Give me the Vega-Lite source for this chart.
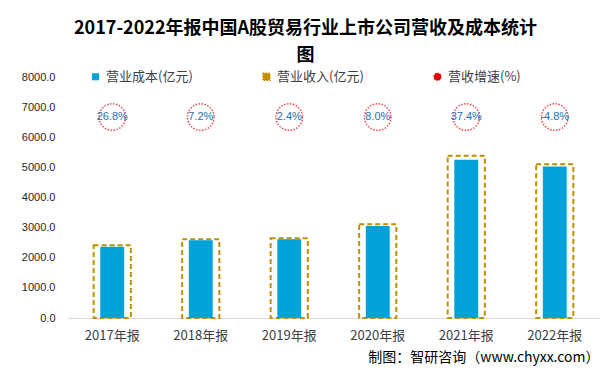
{
  "$schema": "https://vega.github.io/schema/vega-lite/v6.json",
  "width": 531,
  "height": 241,
  "autosize": {"type": "none"},
  "padding": {"left": 68, "top": 77, "right": 11, "bottom": 59},
  "background": "white",
  "title": {
    "text": ["2017-2022年报中国A股贸易行业上市公司营收及成本统计", "图"],
    "font": "Noto Sans CJK SC",
    "fontSize": 18,
    "fontWeight": "bold",
    "color": "#000000",
    "lineHeight": 27,
    "anchor": "middle",
    "dx": -28,
    "offset": 5
  },
  "data": {
    "values": [
      {"year": "2017年报", "cost": 2365, "revenue": 2415, "growth": "26.8%"},
      {"year": "2018年报", "cost": 2580, "revenue": 2615, "growth": "7.2%"},
      {"year": "2019年报", "cost": 2615, "revenue": 2648, "growth": "2.4%"},
      {"year": "2020年报", "cost": 3056, "revenue": 3113, "growth": "8.0%"},
      {"year": "2021年报", "cost": 5249, "revenue": 5382, "growth": "37.4%"},
      {"year": "2022年报", "cost": 5027, "revenue": 5106, "growth": "-4.8%"}
    ]
  },
  "encoding": {
    "x": {
      "field": "year",
      "type": "nominal",
      "sort": null,
      "scale": {"paddingInner": 0, "paddingOuter": 0},
      "axis": {
        "title": "制图：智研咨询（www.chyxx.com）",
        "titleAnchor": "end",
        "titleAlign": "right",
        "titleFont": "Noto Sans CJK SC",
        "titleFontSize": 14,
        "titleFontWeight": "normal",
        "titleColor": "#000000",
        "titlePadding": 8,
        "labelAngle": 0,
        "labelFontSize": 13,
        "labelColor": "#404040",
        "labelPadding": 11,
        "ticks": false,
        "domainColor": "#d9d9d9",
        "domainWidth": 1
      }
    }
  },
  "layer": [
    {
      "mark": {"type": "bar", "filled": false, "width": {"band": 0.42}, "strokeWidth": 2, "strokeDash": [5, 3]},
      "encoding": {
        "y": {
          "field": "revenue",
          "type": "quantitative",
          "scale": {"domain": [0, 8000], "nice": false},
          "axis": {
            "title": null,
            "values": [0, 1000, 2000, 3000, 4000, 5000, 6000, 7000, 8000],
            "format": ".1f",
            "domain": false,
            "ticks": false,
            "grid": false,
            "labelOverlap": false,
            "labelFont": "Liberation Sans",
            "labelFontSize": 11,
            "labelColor": "#262626",
            "labelPadding": 13
          }
        },
        "color": {
          "datum": "营业收入(亿元)",
          "scale": {
            "domain": ["营业成本(亿元)", "营业收入(亿元)", "营收增速(%)"],
            "range": ["#00a2da", "#bf9000", "#e00000"]
          },
          "legend": {
            "symbolType": "square",
            "encode": {
              "symbols": {
                "update": {
                  "shape": {"signal": "datum.value === '营收增速(%)' ? 'circle' : 'square'"},
                  "fill": {"signal": "datum.value === '营业成本(亿元)' ? '#00a2da' : 'transparent'"},
                  "stroke": {"signal": "datum.value === '营业成本(亿元)' ? '#00a2da' : (datum.value === '营业收入(亿元)' ? '#bf9000' : '#e00000')"},
                  "strokeDash": {"signal": "datum.value === '营业成本(亿元)' ? [] : [1.5, 1.2]"},
                  "strokeWidth": {"signal": "datum.value === '营业成本(亿元)' ? 0 : 1.2"},
                  "opacity": {"value": 1}
                }
              }
            }
          }
        }
      }
    },
    {
      "mark": {"type": "bar", "width": {"band": 0.27}},
      "encoding": {
        "y": {
          "field": "cost",
          "type": "quantitative",
          "axis": {
            "title": null,
            "values": [0, 1000, 2000, 3000, 4000, 5000, 6000, 7000, 8000],
            "format": ".1f",
            "domain": false,
            "ticks": false,
            "grid": false,
            "labelOverlap": false,
            "labelFont": "Liberation Sans",
            "labelFontSize": 11,
            "labelColor": "#262626",
            "labelPadding": 13
          }
        },
        "color": {
          "datum": "营业成本(亿元)",
          "legend": {
            "symbolType": "square",
            "encode": {
              "symbols": {
                "update": {
                  "shape": {"signal": "datum.value === '营收增速(%)' ? 'circle' : 'square'"},
                  "fill": {"signal": "datum.value === '营业成本(亿元)' ? '#00a2da' : 'transparent'"},
                  "stroke": {"signal": "datum.value === '营业成本(亿元)' ? '#00a2da' : (datum.value === '营业收入(亿元)' ? '#bf9000' : '#e00000')"},
                  "strokeDash": {"signal": "datum.value === '营业成本(亿元)' ? [] : [1.5, 1.2]"},
                  "strokeWidth": {"signal": "datum.value === '营业成本(亿元)' ? 0 : 1.2"},
                  "opacity": {"value": 1}
                }
              }
            }
          }
        }
      }
    },
    {
      "mark": {"type": "point", "filled": false, "shape": "circle", "size": 707, "strokeWidth": 1.5, "strokeDash": [1.5, 1.5]},
      "encoding": {
        "y": {
          "datum": 6670,
          "axis": {
            "title": null,
            "values": [0, 1000, 2000, 3000, 4000, 5000, 6000, 7000, 8000],
            "format": ".1f",
            "domain": false,
            "ticks": false,
            "grid": false,
            "labelOverlap": false,
            "labelFont": "Liberation Sans",
            "labelFontSize": 11,
            "labelColor": "#262626",
            "labelPadding": 13
          }
        },
        "color": {
          "datum": "营收增速(%)",
          "legend": {
            "symbolType": "square",
            "encode": {
              "symbols": {
                "update": {
                  "shape": {"signal": "datum.value === '营收增速(%)' ? 'circle' : 'square'"},
                  "fill": {"signal": "datum.value === '营业成本(亿元)' ? '#00a2da' : 'transparent'"},
                  "stroke": {"signal": "datum.value === '营业成本(亿元)' ? '#00a2da' : (datum.value === '营业收入(亿元)' ? '#bf9000' : '#e00000')"},
                  "strokeDash": {"signal": "datum.value === '营业成本(亿元)' ? [] : [1.5, 1.2]"},
                  "strokeWidth": {"signal": "datum.value === '营业成本(亿元)' ? 0 : 1.2"},
                  "opacity": {"value": 1}
                }
              }
            }
          }
        }
      }
    },
    {
      "mark": {"type": "text", "font": "Liberation Sans", "fontSize": 11, "color": "#1f6fb0"},
      "encoding": {
        "y": {
          "datum": 6670,
          "axis": {
            "title": null,
            "values": [0, 1000, 2000, 3000, 4000, 5000, 6000, 7000, 8000],
            "format": ".1f",
            "domain": false,
            "ticks": false,
            "grid": false,
            "labelOverlap": false,
            "labelFont": "Liberation Sans",
            "labelFontSize": 11,
            "labelColor": "#262626",
            "labelPadding": 13
          }
        },
        "text": {"field": "growth"}
      }
    }
  ],
  "config": {
    "font": "Noto Sans CJK SC",
    "view": {"stroke": null},
    "legend": {
      "orient": "none",
      "legendX": 21,
      "legendY": -7,
      "direction": "horizontal",
      "title": null,
      "padding": 0,
      "labelFontSize": 13,
      "labelColor": "#404040",
      "labelFont": "Noto Sans CJK SC",
      "symbolSize": 50,
      "labelOffset": 4,
      "columnPadding": 67
    }
  }
}
